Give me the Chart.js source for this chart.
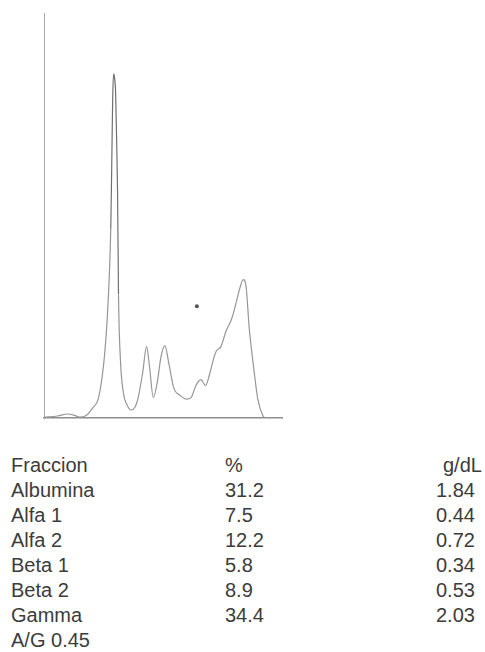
<!DOCTYPE html>
<html>
<head>
<meta charset="utf-8">
<script src="https://cdn.jsdelivr.net/npm/chart.js@4"></script>
<style>
  html, body { margin: 0; padding: 0; background: #fff; }
  body { width: 485px; height: 652px; position: relative; overflow: hidden; }
  #grafico { position: absolute; left: 0; top: 0; }
  .tabla { position: absolute; left: 0; top: 453px; width: 485px;
           font-family: "Liberation Sans", Arial, sans-serif; font-size: 20px;
           line-height: 25px; color: #3c3c3c; }
  .fila { position: relative; height: 25px; }
  .fila span { position: absolute; top: 0; white-space: nowrap; }
  .c1 { left: 11px; }
  .c2 { left: 225px; }
  .c3 { left: 436px; }
  .c3h { left: 443px; }
</style>
</head>
<body>
<canvas id="grafico" width="485" height="440"></canvas>
<div class="tabla" id="tabla"></div>
<script>
// Trazado densitométrico (posición de migración, densidad relativa)
const posicion = [0, 14, 24, 31, 37, 44, 51, 56, 61, 64, 66, 69, 70, 71, 72, 73, 74, 75, 76, 77,
  79, 82, 86, 90, 94, 97, 102, 106, 109, 113, 117, 121, 125, 129, 134, 141, 147, 152, 157, 162,
  167, 171, 176, 178, 183, 188, 194, 199, 202, 206, 209, 212, 217, 221, 226, 229, 246];
const densidad = [0.2, 0.5, 1.0, 0.7, 0.2, 0.7, 2.7, 4.7, 12.0, 19.9, 27.7, 47.3, 62.7, 79.9, 86.0, 84.8, 81.6, 70.1, 57.1, 30.9,
  14.5, 6.4, 3.2, 2.0, 2.7, 4.7, 11.3, 17.9, 13.0, 5.1, 8.8, 15.4, 18.1, 13.7, 7.6, 5.6, 4.7, 5.1, 8.1, 9.6,
  8.1, 10.8, 15.4, 16.7, 17.9, 21.6, 24.8, 29.2, 32.1, 34.6, 32.6, 22.8, 12.0, 4.7, 0.7, 0, 0];

// Mancha del escaneo
const mancha = [{ x: 158, y: 27.9 }];

// Tabla de fracciones
const fracciones = ['Albumina', 'Alfa 1', 'Alfa 2', 'Beta 1', 'Beta 2', 'Gamma'];
const porcentajes = ['31.2', '7.5', '12.2', '5.8', '8.9', '34.4'];
const gramos = ['1.84', '0.44', '0.72', '0.34', '0.53', '2.03'];
const relacionAG = 'A/G 0.45';

function crearFila(a, b, c, cabecera) {
  const fila = document.createElement('div');
  fila.className = 'fila';
  const s1 = document.createElement('span'); s1.className = 'c1'; s1.textContent = a;
  fila.appendChild(s1);
  if (b !== null) {
    const s2 = document.createElement('span'); s2.className = 'c2'; s2.textContent = b;
    const s3 = document.createElement('span'); s3.className = cabecera ? 'c3h' : 'c3'; s3.textContent = c;
    fila.appendChild(s2); fila.appendChild(s3);
  }
  return fila;
}

const tabla = document.getElementById('tabla');
tabla.appendChild(crearFila('Fraccion', '%', 'g/dL', true));
fracciones.forEach((f, i) => tabla.appendChild(crearFila(f, porcentajes[i], gramos[i], false)));
tabla.appendChild(crearFila(relacionAG, null, null));

new Chart(document.getElementById('grafico').getContext('2d'), {
  type: 'line',
  data: {
    datasets: [{
      data: posicion.map((x, i) => ({ x: x, y: densidad[i] })),
      borderColor: '#969696',
      borderWidth: 1.2,
      pointRadius: 0,
      cubicInterpolationMode: 'monotone',
      fill: false,
      // el pico de albúmina sale más oscuro en el escaneo
      segment: {
        borderColor: ctx => (ctx.p0.parsed.x >= 69 && ctx.p1.parsed.x <= 77) ? '#707070' : undefined
      }
    }, {
      type: 'scatter',
      data: mancha,
      pointRadius: 2,
      pointBackgroundColor: '#555',
      pointBorderWidth: 0
    }]
  },
  options: {
    responsive: false,
    animation: false,
    layout: { padding: { left: 36, top: 13, right: 203, bottom: 14 } },
    plugins: { legend: { display: false }, tooltip: { enabled: false } },
    scales: {
      x: {
        type: 'linear', min: 0, max: 246,
        grid: { display: false },
        ticks: { display: false },
        border: { display: true, color: '#8c8c8c', width: 1.5 }
      },
      y: {
        min: 0, max: 101.2,
        grid: { display: false },
        ticks: { display: false },
        border: { display: true, color: '#a8a8a8', width: 1 }
      }
    }
  }
});
</script>
</body>
</html>
